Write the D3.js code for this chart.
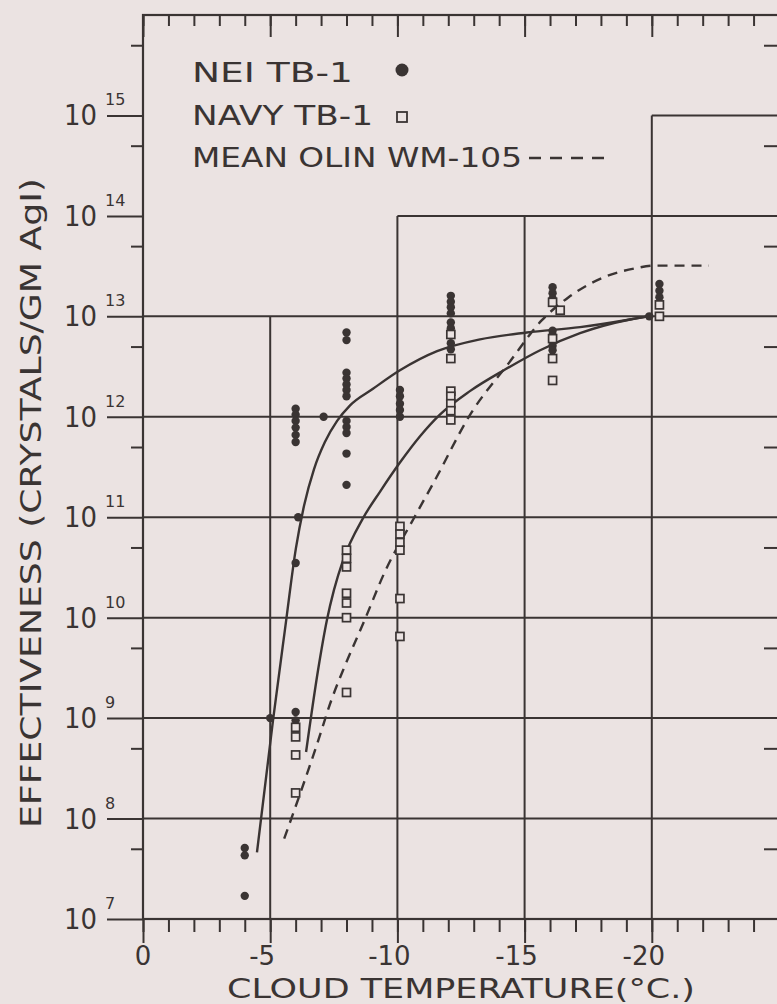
<!DOCTYPE html>
<html>
<head>
<meta charset="utf-8">
<script src="https://cdn.jsdelivr.net/npm/d3@7/dist/d3.min.js"></script>
<style>
  html, body { margin: 0; padding: 0; background: #ebe3e2; }
  svg { display: block; }
  text { font-family: "DejaVu Sans", sans-serif; fill: #3a3433; }
</style>
</head>
<body>
<div id="chart"></div>
<script>
// NEI TB-1 points (filled circles)
const neiTemp = [-4, -4, -4, -5,
  -6, -6, -6, -6, -6, -6, -6.1, -6, -6, -6, -7.1,
  -8, -8, -8, -8, -8, -8, -8, -8, -8, -8, -8, -8,
  -10.1, -10.1, -10.1, -10.1, -10.1,
  -12.1, -12.1, -12.1, -12.1, -12.1, -12.1, -12.1, -12.1,
  -16.1, -16.1, -16.1, -16.1, -16.1, -16.1, -16.1,
  -20.3, -20.3, -20.3, -19.9];
const neiValue = [5.1e7, 4.3e7, 1.7e7, 1.0e9,
  1.2e12, 1.05e12, 9.1e11, 7.8e11, 6.6e11, 5.6e11, 1.0e11, 3.5e10, 1.15e9, 9.5e8, 1.0e12,
  6.9e12, 5.8e12, 2.75e12, 2.4e12, 2.1e12, 1.85e12, 1.6e12, 9.1e11, 7.9e11, 6.9e11, 4.3e11, 2.1e11,
  1.85e12, 1.6e12, 1.35e12, 1.17e12, 1.0e12,
  1.6e13, 1.4e13, 1.23e13, 1.07e13, 8.7e12, 7.6e12, 5.4e12, 4.7e12,
  1.95e13, 1.7e13, 1.5e13, 7.2e12, 6.5e12, 5.1e12, 4.6e12,
  2.1e13, 1.8e13, 1.55e13, 1.0e13];

// NAVY TB-1 points (open squares)
const navyTemp = [-6, -6, -6, -6,
  -8, -8, -8, -8, -8, -8, -8,
  -10.1, -10.1, -10.1, -10.1, -10.1, -10.1,
  -12.1, -12.1, -12.1, -12.1, -12.1, -12.1, -12.1,
  -16.1, -16.4, -16.1, -16.1, -16.1,
  -20.3, -20.3];
const navyValue = [8.1e8, 6.5e8, 4.3e8, 1.8e8,
  4.7e10, 3.9e10, 3.2e10, 1.75e10, 1.4e10, 1.0e10, 1.8e9,
  8.1e10, 6.8e10, 5.6e10, 4.7e10, 1.55e10, 6.5e9,
  6.6e12, 3.8e12, 1.8e12, 1.6e12, 1.35e12, 1.15e12, 9.3e11,
  1.38e13, 1.15e13, 6.0e12, 3.8e12, 2.3e12,
  1.3e13, 1.0e13];

// fitted curves
const neiCurveTemp = [-4.48, -5.11, -5.58, -6.01, -6.33, -6.72, -7.15, -7.63, -8.14, -9.04,
  -10.10, -11.56, -13.25, -15.09, -17.18, -19.14, -19.85];
const neiCurveValue = [4.6e7, 9.5e8, 7.6e9, 4.9e10, 1.3e11, 3.0e11, 5.6e11, 9.1e11, 1.3e12, 1.9e12,
  2.9e12, 4.5e12, 5.9e12, 6.9e12, 7.8e12, 9.3e12, 1.0e13];

const navyCurveTemp = [-6.41, -6.88, -7.23, -7.51, -7.86, -8.65, -9.32, -10.10, -10.89, -11.67,
  -12.85, -14.23, -15.61, -17.18, -19.14, -19.85];
const navyCurveValue = [4.6e8, 3.0e9, 9.5e9, 1.9e10, 3.7e10, 9.8e10, 1.8e11, 3.5e11, 6.4e11, 1.05e12,
  1.8e12, 2.95e12, 4.6e12, 6.8e12, 9.3e12, 1.0e13];

const olinCurveTemp = [-5.55, -6.89, -7.40, -7.91, -8.70, -9.49, -10.67, -11.46, -12.91, -14.37,
  -15.67, -16.73, -18.03, -19.33, -20.12, -22.24];
const olinCurveValue = [6.3e7, 6.0e8, 1.5e9, 3.2e9, 9.3e9, 2.8e10, 1.0e11, 2.3e11, 1.1e12, 3.4e12,
  9.1e12, 1.55e13, 2.4e13, 3.0e13, 3.2e13, 3.2e13];

// axes / grid
const tempTicks = d3.range(0, -26, -1);
const tempLabels = [0, -5, -10, -15, -20];
const decades = [1e7, 1e8, 1e9, 1e10, 1e11, 1e12, 1e13, 1e14, 1e15];
const halfDecades = [5e7, 5e8, 5e9, 5e10, 5e11, 5e12, 5e13, 5e14, 5e15];
const fullRows = [1e8, 1e9, 1e10, 1e11, 1e12, 1e13];
const stepRows = [[1e14, -10], [1e15, -20]];
const stepCols = [[-5, 1e13], [-10, 1e14], [-15, 1e14], [-20, 1e15]];

const ink = "#3a3433";
const paper = "#ebe3e2";

var svg = d3.select("#chart").append("svg").attr("width", 777).attr("height", 1004);

var x = d3.scaleLinear().domain([0, -25]).range([143, 779]);
var y = d3.scaleLog().domain([1e7, 1e16]).range([919, 15]);

// grid
var grid = svg.append("g").attr("stroke", ink).attr("stroke-width", 2);
grid.selectAll(".row").data(fullRows).enter().append("line")
  .attr("x1", x(0)).attr("x2", x(-25))
  .attr("y1", function (d) { return y(d); }).attr("y2", function (d) { return y(d); });
grid.selectAll(".step").data(stepRows).enter().append("line")
  .attr("x1", function (d) { return x(d[1]); }).attr("x2", x(-25))
  .attr("y1", function (d) { return y(d[0]); }).attr("y2", function (d) { return y(d[0]); });
grid.selectAll(".col").data(stepCols).enter().append("line")
  .attr("x1", function (d) { return x(d[0]); }).attr("x2", function (d) { return x(d[0]); })
  .attr("y1", y(1e7)).attr("y2", function (d) { return y(d[1]); });

// frame
svg.append("rect")
  .attr("x", x(0)).attr("y", y(1e16))
  .attr("width", x(-25) - x(0)).attr("height", y(1e7) - y(1e16))
  .attr("fill", "none").attr("stroke", ink).attr("stroke-width", 2.2);

function styleAxis(g) {
  g.select(".domain").remove();
  g.selectAll(".tick line").attr("stroke", ink).attr("stroke-width", 2);
  g.selectAll(".tick text").remove();
}

// bottom ticks (outward)
svg.append("g").attr("transform", "translate(0," + y(1e7) + ")")
  .call(d3.axisBottom(x).tickValues(tempTicks).tickSize(13)).call(styleAxis);
svg.append("g").attr("transform", "translate(0," + y(1e7) + ")")
  .call(d3.axisBottom(x).tickValues(tempLabels).tickSize(24)).call(styleAxis);
// top ticks (inward)
svg.append("g").attr("transform", "translate(0," + y(1e16) + ")")
  .call(d3.axisBottom(x).tickValues(tempTicks).tickSize(11)).call(styleAxis);
svg.append("g").attr("transform", "translate(0," + y(1e16) + ")")
  .call(d3.axisBottom(x).tickValues(tempLabels.concat([-25])).tickSize(22)).call(styleAxis);
// left ticks (outward)
svg.append("g").attr("transform", "translate(" + x(0) + ",0)")
  .call(d3.axisLeft(y).tickValues(decades).tickSize(36)).call(styleAxis);
svg.append("g").attr("transform", "translate(" + x(0) + ",0)")
  .call(d3.axisLeft(y).tickValues(halfDecades).tickSize(12)).call(styleAxis);
// right ticks (inward)
svg.append("g").attr("transform", "translate(" + x(-25) + ",0)")
  .call(d3.axisLeft(y).tickValues(halfDecades).tickSize(15)).call(styleAxis);

// y tick labels: 10 with exponent
var ylab = svg.append("g");
ylab.selectAll(".base").data(decades).enter().append("text")
  .attr("x", 97).attr("y", function (d) { return y(d) + 10; })
  .attr("text-anchor", "end").attr("font-size", 29)
  .attr("textLength", 33).attr("lengthAdjust", "spacingAndGlyphs")
  .text("10");
ylab.selectAll(".exp").data(decades).enter().append("text")
  .attr("x", 105).attr("y", function (d) { return y(d) - 10; })
  .attr("font-size", 16)
  .text(function (d) { return Math.round(Math.log10(d)); });

// x tick labels
svg.selectAll(".xlab").data(tempLabels).enter().append("text")
  .attr("x", function (d) { return x(d) + (d === 0 ? 0 : -8); })
  .attr("y", 965)
  .attr("text-anchor", "middle").attr("font-size", 26)
  .text(function (d) { return d === 0 ? "0" : "-" + Math.abs(d); });

// axis titles
svg.append("text")
  .attr("x", 227).attr("y", 998)
  .attr("font-size", 27).attr("textLength", 468).attr("lengthAdjust", "spacingAndGlyphs")
  .text("CLOUD TEMPERATURE(°C.)");
svg.append("text")
  .attr("transform", "translate(41,828) rotate(-90)")
  .attr("font-size", 28).attr("textLength", 650).attr("lengthAdjust", "spacingAndGlyphs")
  .text("EFFECTIVENESS (CRYSTALS/GM AgI)");

// curves
var line = d3.line()
  .x(function (d) { return x(d[0]); })
  .y(function (d) { return y(d[1]); })
  .curve(d3.curveMonotoneX);

svg.append("path").datum(d3.zip(neiCurveTemp, neiCurveValue))
  .attr("d", line).attr("fill", "none").attr("stroke", ink).attr("stroke-width", 2.4);
svg.append("path").datum(d3.zip(navyCurveTemp, navyCurveValue))
  .attr("d", line).attr("fill", "none").attr("stroke", ink).attr("stroke-width", 2.4);
svg.append("path").datum(d3.zip(olinCurveTemp, olinCurveValue))
  .attr("d", line).attr("fill", "none").attr("stroke", ink).attr("stroke-width", 2.4)
  .attr("stroke-dasharray", "10,7");

// points
svg.selectAll(".nei").data(d3.zip(neiTemp, neiValue)).enter().append("circle")
  .attr("cx", function (d) { return x(d[0]); })
  .attr("cy", function (d) { return y(d[1]); })
  .attr("r", 4.2).attr("fill", ink);
svg.selectAll(".navy").data(d3.zip(navyTemp, navyValue)).enter().append("rect")
  .attr("x", function (d) { return x(d[0]) - 4; })
  .attr("y", function (d) { return y(d[1]) - 4; })
  .attr("width", 8).attr("height", 8)
  .attr("fill", paper).attr("stroke", ink).attr("stroke-width", 1.7);

// legend
var legend = svg.append("g").attr("font-size", 27);
legend.append("text").attr("x", 192).attr("y", 82)
  .attr("textLength", 161).attr("lengthAdjust", "spacingAndGlyphs").text("NEI TB-1");
legend.append("circle").attr("cx", 402).attr("cy", 70).attr("r", 6.5).attr("fill", ink);
legend.append("text").attr("x", 192).attr("y", 125)
  .attr("textLength", 181).attr("lengthAdjust", "spacingAndGlyphs").text("NAVY TB-1");
legend.append("rect").attr("x", 397).attr("y", 112).attr("width", 10).attr("height", 10)
  .attr("fill", paper).attr("stroke", ink).attr("stroke-width", 1.8);
legend.append("text").attr("x", 192).attr("y", 167)
  .attr("textLength", 330).attr("lengthAdjust", "spacingAndGlyphs").text("MEAN OLIN WM-105");
legend.append("line").attr("x1", 529).attr("x2", 604).attr("y1", 158).attr("y2", 158)
  .attr("stroke", ink).attr("stroke-width", 2.4).attr("stroke-dasharray", "12,9");
</script>
</body>
</html>
